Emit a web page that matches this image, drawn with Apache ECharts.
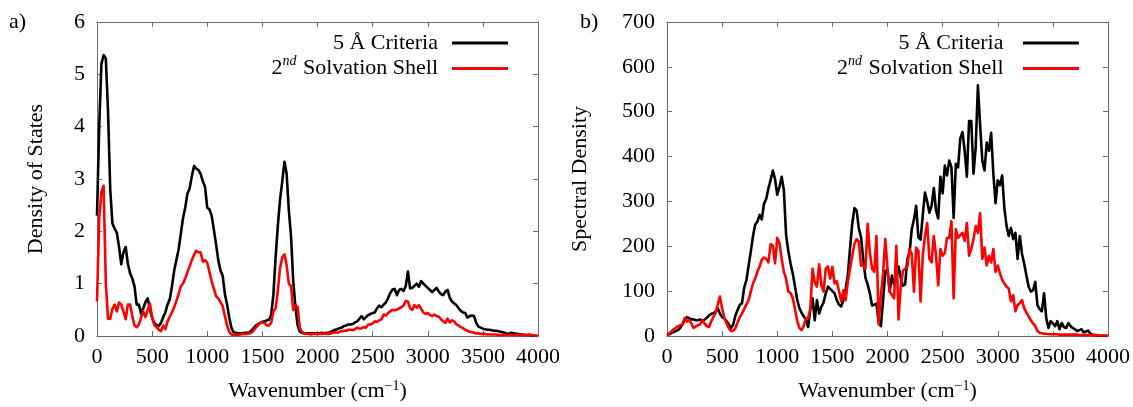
<!DOCTYPE html>
<html>
<head>
<meta charset="utf-8">
<script src="https://cdn.jsdelivr.net/npm/echarts@6/dist/echarts.min.js"></script>
<style>
  html, body { margin: 0; padding: 0; background: #fff; }
  #chart { width: 1133px; height: 407px; }
</style>
</head>
<body>
<div id="chart"></div>
<script>
// Spectra sampled every 20 cm^-1 from 0 to 4000 cm^-1
const wavenumberStep = 20;
const wavenumberMax = 4000;
const xTicks = ['0', '500', '1000', '1500', '2000', '2500', '3000', '3500', '4000'];
const seriesNames = ['5 Å Criteria', '2nd Solvation Shell'];

// a) Density of states
const dosCriteria = [
  2.3, 4.0, 5.2, 5.37, 5.3, 4.3, 2.8, 2.15, 2.05, 1.97,
  1.7, 1.37, 1.6, 1.7, 1.38, 1.2, 1.1, 0.95, 0.6, 0.6,
  0.42, 0.53, 0.65, 0.72, 0.5, 0.35, 0.25, 0.21, 0.19, 0.25,
  0.36, 0.45, 0.6, 0.7, 0.95, 1.25, 1.45, 1.65, 1.95, 2.25,
  2.45, 2.72, 2.82, 3.05, 3.25, 3.2, 3.17, 3.1, 2.95, 2.85,
  2.45, 2.42, 2.3, 2.03, 1.75, 1.45, 1.25, 1.15, 0.8, 0.6,
  0.35, 0.15, 0.07, 0.06, 0.05, 0.05, 0.05, 0.06, 0.06, 0.07,
  0.1, 0.15, 0.2, 0.23, 0.25, 0.27, 0.28, 0.3, 0.31, 0.4,
  0.8, 1.5, 2.1, 2.6, 2.95, 3.33, 3.1, 2.4, 1.9, 1.05,
  0.55, 0.2, 0.08, 0.06, 0.05, 0.05, 0.05, 0.05, 0.05, 0.05,
  0.05, 0.05, 0.06, 0.05, 0.06, 0.06, 0.08, 0.1, 0.12, 0.13,
  0.15, 0.16, 0.19, 0.2, 0.22, 0.22, 0.23, 0.26, 0.28, 0.33,
  0.38, 0.32, 0.36, 0.4, 0.42, 0.44, 0.45, 0.53, 0.58, 0.55,
  0.6, 0.64, 0.72, 0.82, 0.89, 0.9, 0.78, 0.88, 0.9, 0.86,
  0.95, 1.23, 0.91, 0.92, 0.96, 1.0, 0.94, 1.05, 1.0, 0.96,
  0.92, 0.88, 0.84, 0.88, 0.92, 0.85, 0.8, 0.78, 0.85, 0.88,
  0.73, 0.66, 0.62, 0.59, 0.53, 0.48, 0.45, 0.44, 0.35, 0.38,
  0.39, 0.38, 0.25, 0.18, 0.16, 0.14, 0.13, 0.12, 0.12, 0.11,
  0.1, 0.1, 0.09, 0.08, 0.07, 0.06, 0.04, 0.05, 0.06, 0.05,
  0.04, 0.04, 0.03, 0.03, 0.02, 0.02, 0.02, 0.01, 0.01, 0.0,
  0.0
];
const dosShell = [
  0.66, 2.25, 2.75, 2.87, 1.0, 0.33, 0.33, 0.52, 0.6, 0.47,
  0.64, 0.6, 0.47, 0.32, 0.6, 0.6, 0.38, 0.2, 0.17, 0.22,
  0.35, 0.47, 0.36, 0.5, 0.62, 0.35, 0.21, 0.17, 0.12, 0.09,
  0.2, 0.13, 0.28, 0.37, 0.45, 0.55, 0.67, 0.8, 0.95, 1.0,
  1.1, 1.22, 1.33, 1.45, 1.55, 1.63, 1.6, 1.6, 1.42, 1.45,
  1.4, 1.22, 1.05, 0.9, 0.76, 0.72, 0.65, 0.57, 0.38, 0.2,
  0.08, 0.03, 0.02, 0.02, 0.02, 0.03, 0.04, 0.04, 0.04, 0.05,
  0.06, 0.1, 0.16, 0.2, 0.25, 0.26, 0.25, 0.2, 0.2, 0.25,
  0.47, 0.53, 0.85, 1.3, 1.5, 1.56, 1.35, 1.0, 0.95, 0.5,
  0.59, 0.55, 0.15, 0.08, 0.05, 0.04, 0.04, 0.03, 0.04, 0.04,
  0.04, 0.04, 0.04, 0.05, 0.04, 0.04, 0.05, 0.06, 0.07, 0.06,
  0.08, 0.09, 0.1, 0.1, 0.12, 0.12, 0.11, 0.13, 0.16, 0.14,
  0.15, 0.17, 0.16, 0.22, 0.22, 0.24, 0.28, 0.27, 0.3, 0.32,
  0.41, 0.39, 0.44, 0.47, 0.5, 0.49, 0.5, 0.53, 0.55, 0.58,
  0.67, 0.66, 0.53, 0.5, 0.59, 0.54, 0.59, 0.52, 0.45, 0.42,
  0.44, 0.4, 0.38, 0.41, 0.38, 0.37, 0.32, 0.28, 0.25, 0.33,
  0.26, 0.3, 0.28, 0.22, 0.2, 0.17, 0.15, 0.12, 0.1, 0.08,
  0.07, 0.06, 0.05, 0.05, 0.04, 0.04, 0.04, 0.03, 0.03, 0.03,
  0.03, 0.03, 0.02, 0.02, 0.02, 0.02, 0.02, 0.02, 0.02, 0.02,
  0.02, 0.02, 0.02, 0.02, 0.02, 0.02, 0.03, 0.02, 0.01, 0.01,
  0.0
];

// b) Spectral density
const sdCriteria = [
  2, 4, 7, 9, 11, 13, 18, 26, 36, 42,
  40, 37, 37, 35, 35, 37, 34, 36, 40, 46,
  49, 51, 54, 62, 50, 42, 39, 33, 26, 18,
  25, 45, 58, 69, 73, 108, 124, 157, 188, 223,
  248, 255, 270, 260, 295, 306, 329, 348, 369, 350,
  315, 332, 355, 325, 226, 190, 162, 140, 112, 82,
  63, 52, 44, 37, 20, 60, 84, 35, 80, 50,
  65, 75, 95, 110, 105, 100, 95, 80, 70, 66,
  80, 105, 135, 195, 250, 285, 280, 240, 220, 172,
  130, 115, 95, 68, 70, 72, 30, 22, 80, 145,
  148, 99, 135, 115, 130, 155, 130, 112, 115, 172,
  186, 238, 260, 290, 220, 215, 270, 320, 300, 275,
  290, 330, 280, 262, 355, 318, 380, 358, 391, 376,
  263, 384, 376, 440, 455, 413, 355, 479, 479, 362,
  420, 559, 471, 391, 369, 431, 413, 453, 362, 296,
  347, 336, 358, 285, 245, 223, 241, 216, 230, 172,
  223, 183, 161, 135, 110, 99, 102, 121, 69, 60,
  55, 95, 40, 18, 33, 28, 22, 33, 15, 29,
  20, 18, 29, 22, 18, 15, 11, 13, 15, 8,
  10, 12, 5, 3, 2, 1, 0, 0, 0, 0,
  0
];
const sdShell = [
  2, 6, 10, 15, 18, 22, 24, 26, 40, 32,
  36, 28, 18, 21, 24, 26, 35, 28, 22, 20,
  32, 42, 51, 70, 88, 62, 40, 28, 18, 11,
  12, 17, 30, 42, 50, 60, 70, 80, 99, 117,
  128, 143, 155, 170, 175, 172, 164, 205, 201, 162,
  219, 208, 172, 143, 128, 99, 96, 85, 62, 35,
  18, 13, 22, 40, 40, 60, 150, 120, 110, 160,
  113, 99, 150, 155, 128, 154, 117, 122, 100, 77,
  102, 80, 120, 150, 178, 205, 216, 210, 157, 157,
  150, 250, 186, 150, 143, 223, 26, 91, 140, 216,
  150, 99, 91, 84, 201, 37, 110, 145, 150, 154,
  194, 183, 99, 197, 190, 77, 179, 223, 252, 172,
  164, 223, 180, 113, 194, 179, 185, 219, 219, 256,
  84, 238, 219, 225, 230, 212, 252, 179, 194, 216,
  245, 230, 274, 172, 197, 157, 179, 164, 194, 143,
  157, 140, 125, 117, 110, 106, 77, 91, 55, 69,
  73, 80, 62, 52, 44, 35, 28, 22, 11, 7,
  6, 5, 5, 4, 4, 4, 4, 4, 3, 3,
  3, 3, 3, 3, 3, 3, 3, 2, 2, 2,
  2, 2, 2, 2, 2, 2, 1, 1, 1, 1,
  0
];

const wavenumbers = [];
for (let w = 0; w <= wavenumberMax; w += wavenumberStep) wavenumbers.push(w);
const pairs = (values) => wavenumbers.map((w, i) => [w, values[i]]);

const FONT = 'Liberation Serif';
const FRAME = '#6b6b6b';
const BLACK = '#000000';
const RED = '#ff0000';

const rich = {
  t: { fontFamily: FONT, fontSize: 22, color: '#000' },
  sup: { fontFamily: FONT, fontSize: 14, color: '#000', verticalAlign: 'bottom', padding: [0, 0, 10, 0] },
  supi: { fontFamily: FONT, fontSize: 14, fontStyle: 'italic', color: '#000', verticalAlign: 'bottom', padding: [0, 1, 10, 0] }
};

function legendLabel(name) {
  if (name.indexOf('2nd') === 0) return '{t|2}{supi|nd}{t|' + name.slice(3) + '}';
  return '{t|' + name + '}';
}

const grids = [
  { left: 97, right: 595, top: 22, bottom: 65 },
  { left: 667, right: 23, top: 22, bottom: 65 }
];

function xAxes(gridIndex) {
  const base = {
    gridIndex, type: 'value', min: 0, max: wavenumberMax, interval: 500,
    splitLine: { show: false },
    axisLine: { show: true, onZero: false, lineStyle: { color: FRAME, width: 1 } },
    axisTick: { show: true, inside: true, length: 5, lineStyle: { color: FRAME } }
  };
  return [
    Object.assign({}, base, {
      position: 'bottom',
      name: '{t|Wavenumber (cm}{sup|−1}{t|)}',
      nameLocation: 'middle', nameGap: 43,
      nameTextStyle: { rich },
      axisLabel: {
        fontFamily: FONT, fontSize: 22, color: '#000', margin: 10,
        formatter: (v) => xTicks[Math.round(v / 500)]
      }
    }),
    Object.assign({}, base, { position: 'top', axisLabel: { show: false } })
  ];
}

function yAxes(gridIndex, max, interval, name, nameGap) {
  const base = {
    gridIndex, type: 'value', min: 0, max, interval,
    splitLine: { show: false },
    axisLine: { show: true, onZero: false, lineStyle: { color: FRAME, width: 1 } },
    axisTick: { show: true, inside: true, length: 5, lineStyle: { color: FRAME } }
  };
  return [
    Object.assign({}, base, {
      position: 'left', name, nameLocation: 'middle', nameGap,
      nameTextStyle: { fontFamily: FONT, fontSize: 22, color: '#000' },
      axisLabel: { fontFamily: FONT, fontSize: 22, color: '#000', margin: 12 }
    }),
    Object.assign({}, base, { position: 'right', axisLabel: { show: false } })
  ];
}

function lineSeries(name, values, xi, yi, color) {
  return {
    name, type: 'line', xAxisIndex: xi, yAxisIndex: yi,
    data: pairs(values), showSymbol: false, symbol: 'none',
    lineStyle: { color, width: 2.6, join: 'round' },
    itemStyle: { color }
  };
}

function legendFor(right, seriesIds) {
  return {
    data: seriesIds,
    orient: 'vertical', align: 'right',
    right, top: 27,
    itemWidth: 56, itemHeight: 3, itemGap: 0,
    icon: 'rect',
    formatter: legendLabel,
    textStyle: { rich, padding: [0, 9, 0, 0], lineHeight: 19 }
  };
}

const chart = echarts.init(document.getElementById('chart'), null, { renderer: 'canvas' });
chart.setOption({
  animation: false,
  backgroundColor: '#ffffff',
  grid: grids,
  xAxis: [...xAxes(0), ...xAxes(1)],
  yAxis: [
    ...yAxes(0, 6, 1, 'Density of States', 50),
    ...yAxes(1, 700, 100, 'Spectral Density', 76)
  ],
  legend: [
    legendFor(620, [seriesNames[0], seriesNames[1]]),
    legendFor(49, [seriesNames[0] + ' ', seriesNames[1] + ' '])
  ],
  graphic: [
    { type: 'text', left: 9, top: 11, style: { text: 'a)', font: '22px "Liberation Serif"', fill: '#000' } },
    { type: 'text', left: 580, top: 11, style: { text: 'b)', font: '22px "Liberation Serif"', fill: '#000' } }
  ],
  series: [
    lineSeries(seriesNames[0], dosCriteria, 0, 0, BLACK),
    lineSeries(seriesNames[1], dosShell, 0, 0, RED),
    lineSeries(seriesNames[0] + ' ', sdCriteria, 2, 2, BLACK),
    lineSeries(seriesNames[1] + ' ', sdShell, 2, 2, RED)
  ]
});
</script>
</body>
</html>
